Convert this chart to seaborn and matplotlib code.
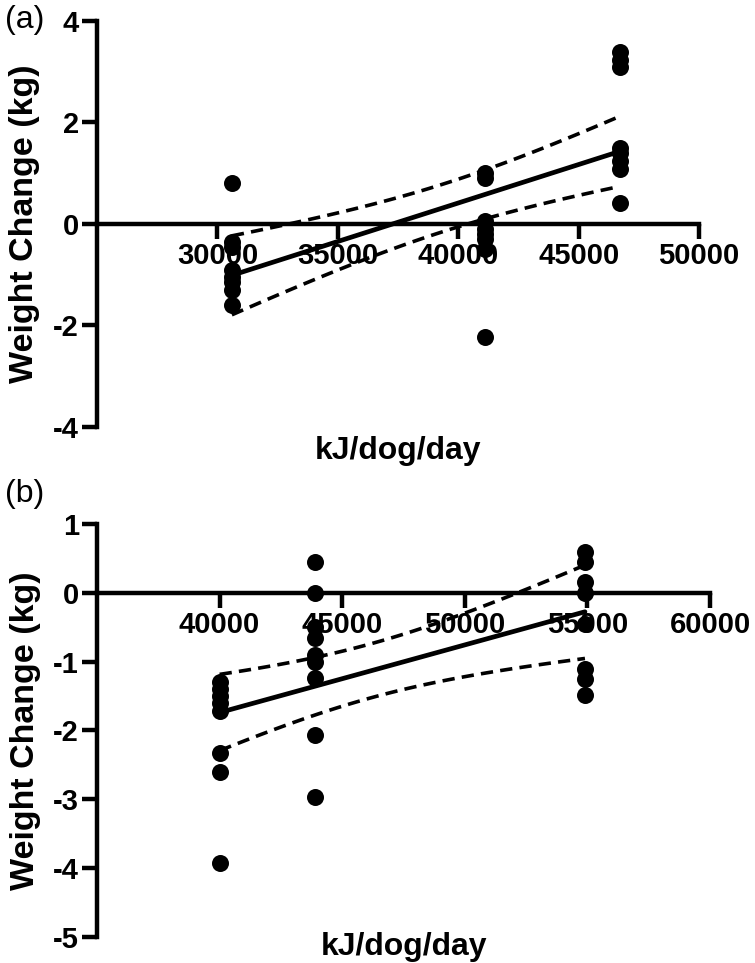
import numpy as np
import pandas as pd
import matplotlib
matplotlib.use("Agg")
import matplotlib.pyplot as plt
import seaborn as sns

# ---- panel (a): energy intake groups and weight change per dog ----
a_intake = [30600, 41100, 46700]
a_low = [0.8, -0.35, -0.45, -0.9, -1.05, -1.15, -1.3, -1.6]
a_mid = [1.0, 0.9, 0.05, -0.1, -0.2, -0.3, -0.5, -2.22]
a_high = [3.38, 3.24, 3.1, 1.5, 1.4, 1.25, 1.08, 0.41]

# ---- panel (b) ----
b_intake = [40000, 43900, 54900]
b_low = [-1.3, -1.4, -1.5, -1.6, -1.72, -2.33, -2.6, -3.93]
b_mid = [0.45, 0.0, -0.5, -0.65, -0.9, -1.0, -1.24, -2.06, -2.96]
b_high = [0.6, 0.45, 0.15, 0.0, -0.45, -1.1, -1.25, -1.48]

a_xticks = [30000, 35000, 40000, 45000, 50000]
a_yticks = [-4, -2, 0, 2, 4]
b_xticks = [40000, 45000, 50000, 55000, 60000]
b_yticks = [-5, -4, -3, -2, -1, 0, 1]


def make_frame(intake, groups):
    rows = []
    for x, vals in zip(intake, groups):
        for v in vals:
            rows.append({"kJ": x, "change": v})
    return pd.DataFrame(rows)


def fit_with_band(df):
    # linear regression + 95% confidence band of the fitted line
    x = df["kJ"].to_numpy(float)
    y = df["change"].to_numpy(float)
    n = len(x)
    slope, icpt = np.polyfit(x, y, 1)
    resid = y - (slope * x + icpt)
    s = np.sqrt(np.sum(resid ** 2) / (n - 2))
    sxx = np.sum((x - x.mean()) ** 2)
    t = 2.07  # two-sided 95% t for ~23 df
    xs = np.linspace(x.min(), x.max(), 60)
    fit = slope * xs + icpt
    half = t * s * np.sqrt(1.0 / n + (xs - x.mean()) ** 2 / sxx)
    return pd.DataFrame({"kJ": xs, "fit": fit, "upper": fit + half, "lower": fit - half})


sns.set_style("ticks")
plt.rcParams["font.family"] = ["Liberation Sans", "DejaVu Sans"]
plt.rcParams["axes.unicode_minus"] = False
plt.rcParams["text.color"] = "black"
plt.rcParams["axes.labelcolor"] = "black"
plt.rcParams["xtick.color"] = "black"
plt.rcParams["ytick.color"] = "black"
plt.rcParams["axes.edgecolor"] = "black"

fig = plt.figure(figsize=(7.55, 9.63), dpi=100)
ax_a = fig.add_axes([0.1285, 0.5566, 0.7974, 0.4216])
ax_b = fig.add_axes([0.1285, 0.0270, 0.8119, 0.4289])

panels = [
    (ax_a, make_frame(a_intake, [a_low, a_mid, a_high]), (25000, 50000), (-4, 4),
     a_xticks, a_yticks, -0.022, -0.094),
    (ax_b, make_frame(b_intake, [b_low, b_mid, b_high]), (35000, 60000), (-5, 1),
     b_xticks, b_yticks, 0.012, -0.092),
]

for ax, df, xlim, ylim, xt, yt, xlab_y, ylab_x in panels:
    band = fit_with_band(df)
    sns.lineplot(data=band, x="kJ", y="fit", ax=ax, color="black", lw=3.4, zorder=3)
    for col in ["upper", "lower"]:
        sns.lineplot(data=band, x="kJ", y=col, ax=ax, color="black", lw=2.6,
                     linestyle=(0, (3.4, 2.0)), zorder=3)
    sns.scatterplot(data=df, x="kJ", y="change", ax=ax, color="black", s=150,
                    edgecolor="black", linewidth=0, zorder=4, clip_on=False)

    ax.set_xlim(*xlim)
    ax.set_ylim(*ylim)
    ax.set_xticks(xt)
    ax.set_yticks(yt)
    ax.set_xticklabels([str(v) for v in xt])
    ax.set_yticklabels([str(v) for v in yt])

    ax.spines["bottom"].set_position(("data", 0))
    ax.spines["top"].set_visible(False)
    ax.spines["right"].set_visible(False)
    for side in ["left", "bottom"]:
        ax.spines[side].set_linewidth(3.2)
        ax.spines[side].set_color("black")
    ax.tick_params(axis="both", length=11, width=3.2, pad=2, labelsize=21,
                   direction="out", colors="black")
    for lab in ax.get_xticklabels() + ax.get_yticklabels():
        lab.set_fontweight("bold")

    ax.set_xlabel("kJ/dog/day", fontsize=23, fontweight="bold")
    ax.set_ylabel("Weight Change (kg)", fontsize=24.5, fontweight="bold")
    ax.xaxis.set_label_coords(0.5, xlab_y)
    ax.yaxis.set_label_coords(ylab_x, 0.5)

fig.text(0.006, 1 - 20 / 963, "(a)", fontsize=23, va="center", ha="left")
fig.text(0.006, 1 - 494 / 963, "(b)", fontsize=23, va="center", ha="left")

fig.savefig("out.png", dpi=100)
